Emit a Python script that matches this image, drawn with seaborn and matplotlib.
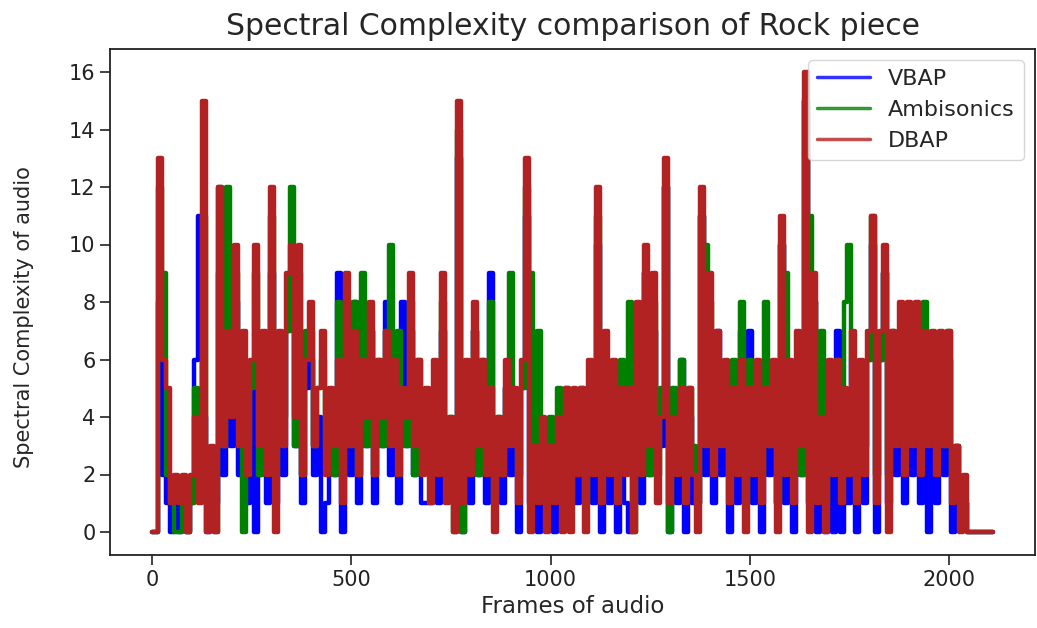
import numpy as np
import pandas as pd
import seaborn as sns
import matplotlib
matplotlib.use("Agg")
import matplotlib.pyplot as plt

# Frames sampled every 10 frames (0 .. 2110)
frames = list(range(0, 2120, 10))

vbap = [
    0, 0, 8, 2, 1, 0, 1, 0, 1, 0,
    1, 6, 11, 4, 0, 2, 1, 9, 2, 6,
    3, 8, 2, 6, 1, 5, 0, 2, 6, 1,
    9, 1, 6, 2, 7, 8, 3, 7, 1, 5,
    6, 2, 4, 0, 1, 4, 2, 9, 0, 7,
    2, 8, 1, 5, 3, 7, 1, 5, 3, 8,
    2, 5, 1, 8, 3, 7, 2, 5, 1, 1,
    1, 5, 1, 7, 2, 3, 1, 13, 0, 5,
    1, 7, 2, 5, 1, 9, 1, 3, 1, 5,
    2, 4, 0, 5, 11, 1, 2, 0, 3, 1,
    2, 0, 3, 1, 4, 1, 4, 1, 4, 1,
    5, 1, 10, 0, 6, 1, 5, 0, 4, 1,
    0, 1, 7, 1, 9, 2, 7, 4, 3, 12,
    0, 3, 1, 6, 0, 4, 1, 1, 11, 2,
    7, 1, 7, 2, 5, 0, 4, 1, 7, 1,
    7, 1, 5, 0, 4, 2, 5, 1, 10, 1,
    5, 0, 6, 2, 15, 1, 8, 0, 3, 0,
    5, 0, 7, 0, 4, 1, 6, 0, 5, 1,
    6, 10, 0, 6, 9, 1, 6, 2, 7, 1,
    7, 2, 7, 1, 6, 0, 6, 1, 6, 2,
    6, 0, 3, 1, 1, 0, 0, 0, 0, 0,
    0, 0,
]

ambisonics = [
    0, 0, 12, 9, 2, 1, 0, 0, 1, 0,
    1, 5, 2, 11, 1, 2, 0, 12, 3, 12,
    5, 9, 4, 0, 3, 5, 9, 2, 6, 3,
    11, 2, 6, 4, 7, 12, 3, 9, 2, 7,
    7, 3, 5, 6, 3, 4, 2, 8, 2, 8,
    3, 8, 2, 9, 3, 7, 2, 6, 3, 7,
    10, 5, 7, 4, 3, 8, 2, 6, 3, 4,
    2, 5, 3, 8, 2, 4, 0, 14, 0, 5,
    3, 7, 2, 6, 3, 8, 1, 4, 2, 5,
    9, 4, 2, 5, 12, 9, 2, 7, 3, 1,
    4, 2, 5, 1, 5, 1, 4, 2, 5, 1,
    5, 3, 11, 2, 6, 3, 5, 2, 6, 3,
    8, 0, 7, 3, 9, 2, 8, 2, 5, 12,
    0, 5, 3, 6, 2, 5, 3, 1, 11, 10,
    8, 3, 6, 4, 5, 2, 6, 3, 8, 1,
    6, 3, 5, 2, 8, 3, 5, 1, 10, 9,
    5, 2, 6, 2, 15, 11, 8, 2, 7, 1,
    5, 3, 6, 2, 8, 10, 6, 2, 5, 3,
    6, 11, 2, 6, 9, 2, 7, 4, 7, 3,
    7, 4, 7, 3, 8, 4, 6, 3, 6, 3,
    7, 2, 3, 1, 1, 0, 0, 0, 0, 0,
    0, 0,
]

dbap = [
    0, 0, 13, 6, 5, 1, 2, 1, 2, 0,
    2, 4, 1, 15, 0, 3, 0, 12, 3, 7,
    4, 10, 3, 7, 2, 6, 10, 3, 7, 2,
    12, 0, 7, 3, 9, 10, 4, 10, 2, 6,
    8, 3, 5, 7, 2, 5, 3, 6, 1, 9,
    3, 7, 2, 6, 4, 8, 2, 6, 4, 7,
    3, 6, 2, 5, 4, 9, 3, 6, 2, 5,
    1, 6, 2, 9, 1, 4, 0, 15, 1, 6,
    2, 8, 3, 6, 2, 5, 0, 4, 2, 6,
    3, 5, 1, 6, 13, 0, 3, 1, 4, 0,
    3, 1, 4, 0, 5, 0, 5, 2, 5, 0,
    6, 2, 12, 1, 7, 2, 6, 1, 5, 2,
    5, 0, 8, 2, 10, 3, 9, 1, 4, 13,
    1, 4, 2, 5, 1, 5, 2, 0, 12, 3,
    9, 2, 7, 3, 6, 1, 5, 2, 6, 0,
    5, 2, 6, 1, 5, 3, 6, 0, 11, 2,
    6, 1, 7, 3, 16, 0, 9, 1, 4, 0,
    6, 2, 6, 1, 5, 2, 7, 1, 6, 2,
    7, 11, 1, 7, 10, 0, 7, 3, 8, 2,
    8, 3, 8, 2, 7, 3, 7, 2, 7, 3,
    7, 1, 3, 0, 2, 0, 0, 0, 0, 0,
    0, 0,
]

series_names = ["VBAP", "Ambisonics", "DBAP"]
series_colors = {"VBAP": "blue", "Ambisonics": "green", "DBAP": "firebrick"}

df = pd.DataFrame({
    "frame": frames * 3,
    "value": vbap + ambisonics + dbap,
    "method": ["VBAP"] * len(frames) + ["Ambisonics"] * len(frames) + ["DBAP"] * len(frames),
})

sns.set_theme(style="ticks")
plt.rcParams["font.family"] = ["DejaVu Sans"]

fig = plt.figure(figsize=(10.37, 6.28), dpi=100)
ax = fig.add_axes([110 / 1037, 73 / 628, 925 / 1037, 506 / 628])

for name in series_names:
    sub = df[df["method"] == name]
    sns.lineplot(data=sub, x="frame", y="value", color=series_colors[name],
                 linewidth=3.2, label=name, estimator=None, sort=False,
                 drawstyle="steps-mid", ax=ax)

ax.set_yticks(range(0, 17, 2))
ax.set_xticks([0, 500, 1000, 1500, 2000])
ax.tick_params(axis="both", labelsize=15, length=7, width=1.2, colors="#222222")
for sp in ax.spines.values():
    sp.set_linewidth(1.3)
    sp.set_color("#222222")

ax.set_title("Spectral Complexity comparison of Rock piece", fontsize=21.5, pad=10)
ax.set_xlabel("Frames of audio", fontsize=16.5)
ax.set_ylabel("Spectral Complexity of audio", fontsize=15)
ax.yaxis.set_label_coords(-0.082, 0.47)

leg = ax.legend(loc="upper right", fontsize=16, handlelength=2.4, framealpha=0.8)
for line in leg.get_lines():
    line.set_linewidth(2.5)
    line.set_alpha(0.8)

fig.savefig("out.png", dpi=100)
